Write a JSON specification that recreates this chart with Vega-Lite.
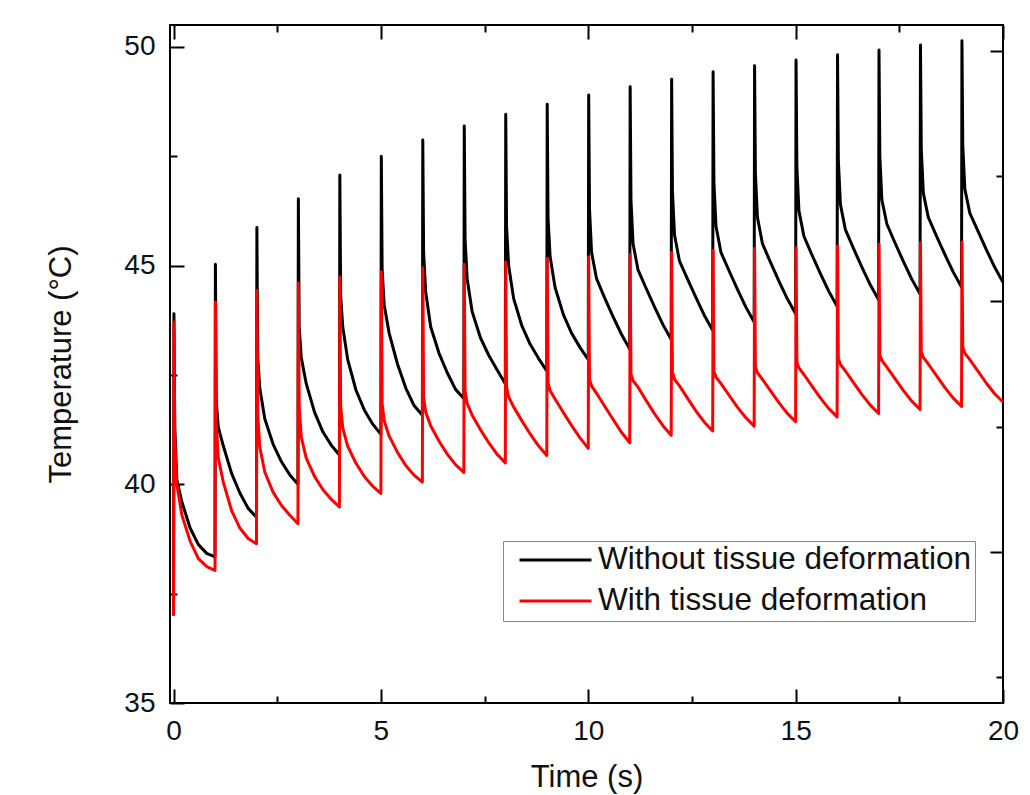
{
  "$schema": "https://vega.github.io/schema/vega-lite/v6.json",
  "width": 833,
  "height": 678,
  "autosize": {"type": "none"},
  "padding": {"left": 170, "top": 25, "right": 27, "bottom": 92},
  "background": "white",
  "config": {
    "font": "Liberation Sans",
    "view": {"stroke": "black", "strokeWidth": 2},
    "axis": {
      "domain": false, "grid": false, "tickColor": "black", "tickWidth": 2,
      "labelFont": "Liberation Sans", "labelFontSize": 28, "labelColor": "#111",
      "titleFont": "Liberation Sans", "titleFontSize": 31, "titleFontWeight": "normal", "titleColor": "#111",
      "labelFlush": false, "labelOverlap": false
    }
  },
  "data": {"values": [
    {"t":0,"wo":37,"w":37},{"t":0.01,"wo":43.9,"w":43.71},{"t":0.03,"wo":41.3,"w":41.0},{"t":0.08,"wo":40.1,"w":40.0},{"t":0.2,"wo":39.6,"w":39.3},{"t":0.4,"wo":39.0,"w":38.7},{"t":0.6,"wo":38.62,"w":38.3},{"t":0.8,"wo":38.42,"w":38.12},
    {"t":1,"wo":38.34,"w":38.03},{"t":1.01,"wo":45.03,"w":44.17},{"t":1.03,"wo":41.9,"w":41.4},{"t":1.08,"wo":41.3,"w":40.6},{"t":1.2,"wo":40.88,"w":40.05},{"t":1.4,"wo":40.25,"w":39.4},{"t":1.6,"wo":39.8,"w":39.0},{"t":1.8,"wo":39.45,"w":38.76},
    {"t":2,"wo":39.25,"w":38.64},{"t":2.01,"wo":45.87,"w":44.43},{"t":2.03,"wo":42.9,"w":41.6},{"t":2.08,"wo":42.2,"w":40.85},{"t":2.2,"wo":41.5,"w":40.28},{"t":2.4,"wo":40.92,"w":39.82},{"t":2.6,"wo":40.52,"w":39.52},{"t":2.8,"wo":40.22,"w":39.3},
    {"t":3,"wo":40.0,"w":39.1},{"t":3.01,"wo":46.53,"w":44.6},{"t":3.03,"wo":43.6,"w":41.78},{"t":3.08,"wo":42.9,"w":41.08},{"t":3.2,"wo":42.3,"w":40.6},{"t":3.4,"wo":41.65,"w":40.18},{"t":3.6,"wo":41.2,"w":39.88},{"t":3.8,"wo":40.9,"w":39.66},
    {"t":4,"wo":40.67,"w":39.48},{"t":4.01,"wo":47.07,"w":44.74},{"t":4.03,"wo":44.3,"w":41.79},{"t":4.08,"wo":43.6,"w":41.29},{"t":4.2,"wo":42.85,"w":40.87},{"t":4.4,"wo":42.15,"w":40.48},{"t":4.6,"wo":41.7,"w":40.18},{"t":4.8,"wo":41.38,"w":39.96},
    {"t":5,"wo":41.14,"w":39.79},{"t":5.01,"wo":47.5,"w":44.86},{"t":5.03,"wo":44.9,"w":41.85},{"t":5.08,"wo":44.1,"w":41.45},{"t":5.2,"wo":43.45,"w":41.1},{"t":5.4,"wo":42.75,"w":40.73},{"t":5.6,"wo":42.2,"w":40.43},{"t":5.8,"wo":41.8,"w":40.21},
    {"t":6,"wo":41.58,"w":40.05},{"t":6.01,"wo":47.87,"w":44.95},{"t":6.03,"wo":45.3,"w":41.99},{"t":6.08,"wo":44.4,"w":41.65},{"t":6.2,"wo":43.6,"w":41.34},{"t":6.4,"wo":43.0,"w":40.99},{"t":6.6,"wo":42.55,"w":40.69},{"t":6.8,"wo":42.17,"w":40.45},
    {"t":7,"wo":41.96,"w":40.27},{"t":7.01,"wo":48.19,"w":45.03},{"t":7.03,"wo":45.6,"w":42.13},{"t":7.08,"wo":44.7,"w":41.85},{"t":7.2,"wo":43.95,"w":41.58},{"t":7.4,"wo":43.35,"w":41.25},{"t":7.6,"wo":42.95,"w":40.95},{"t":7.8,"wo":42.62,"w":40.69},
    {"t":8,"wo":42.3,"w":40.49},{"t":8.01,"wo":48.46,"w":45.08},{"t":8.03,"wo":45.9,"w":42.22},{"t":8.08,"wo":45.0,"w":42.0},{"t":8.2,"wo":44.25,"w":41.77},{"t":8.4,"wo":43.62,"w":41.45},{"t":8.6,"wo":43.2,"w":41.15},{"t":8.8,"wo":42.88,"w":40.88},
    {"t":9,"wo":42.59,"w":40.66},{"t":9.01,"wo":48.69,"w":45.16},{"t":9.03,"wo":46.1,"w":42.32},{"t":9.08,"wo":45.2,"w":42.14},{"t":9.2,"wo":44.5,"w":41.95},{"t":9.4,"wo":43.88,"w":41.64},{"t":9.6,"wo":43.45,"w":41.34},{"t":9.8,"wo":43.13,"w":41.06},
    {"t":10,"wo":42.85,"w":40.82},{"t":10.01,"wo":48.9,"w":45.2},{"t":10.03,"wo":46.3,"w":42.4},{"t":10.08,"wo":45.3,"w":42.25},{"t":10.2,"wo":44.7,"w":42.08},{"t":10.4,"wo":44.25,"w":41.78},{"t":10.6,"wo":43.83,"w":41.48},{"t":10.8,"wo":43.43,"w":41.19},
    {"t":11,"wo":43.09,"w":40.95},{"t":11.01,"wo":49.09,"w":45.25},{"t":11.03,"wo":46.5,"w":42.52},{"t":11.08,"wo":45.5,"w":42.37},{"t":11.2,"wo":44.9,"w":42.22},{"t":11.4,"wo":44.47,"w":41.91},{"t":11.6,"wo":44.05,"w":41.61},{"t":11.8,"wo":43.65,"w":41.34},
    {"t":12,"wo":43.31,"w":41.12},{"t":12.01,"wo":49.26,"w":45.3},{"t":12.03,"wo":46.7,"w":42.55},{"t":12.08,"wo":45.7,"w":42.4},{"t":12.2,"wo":45.1,"w":42.25},{"t":12.4,"wo":44.68,"w":41.96},{"t":12.6,"wo":44.26,"w":41.67},{"t":12.8,"wo":43.86,"w":41.42},
    {"t":13,"wo":43.52,"w":41.22},{"t":13.01,"wo":49.43,"w":45.35},{"t":13.03,"wo":46.9,"w":42.58},{"t":13.08,"wo":45.9,"w":42.45},{"t":13.2,"wo":45.3,"w":42.3},{"t":13.4,"wo":44.87,"w":42.03},{"t":13.6,"wo":44.45,"w":41.76},{"t":13.8,"wo":44.05,"w":41.52},
    {"t":14,"wo":43.71,"w":41.33},{"t":14.01,"wo":49.57,"w":45.39},{"t":14.03,"wo":47.1,"w":42.68},{"t":14.08,"wo":46.1,"w":42.55},{"t":14.2,"wo":45.5,"w":42.4},{"t":14.4,"wo":45.06,"w":42.13},{"t":14.6,"wo":44.64,"w":41.86},{"t":14.8,"wo":44.24,"w":41.62},
    {"t":15,"wo":43.9,"w":41.43},{"t":15.01,"wo":49.7,"w":45.41},{"t":15.03,"wo":47.25,"w":42.79},{"t":15.08,"wo":46.25,"w":42.66},{"t":15.2,"wo":45.67,"w":42.51},{"t":15.4,"wo":45.23,"w":42.24},{"t":15.6,"wo":44.81,"w":41.97},{"t":15.8,"wo":44.41,"w":41.73},
    {"t":16,"wo":44.07,"w":41.54},{"t":16.01,"wo":49.82,"w":45.45},{"t":16.03,"wo":47.4,"w":42.87},{"t":16.08,"wo":46.4,"w":42.74},{"t":16.2,"wo":45.82,"w":42.59},{"t":16.4,"wo":45.38,"w":42.32},{"t":16.6,"wo":44.96,"w":42.05},{"t":16.8,"wo":44.56,"w":41.81},
    {"t":17,"wo":44.22,"w":41.62},{"t":17.01,"wo":49.93,"w":45.49},{"t":17.03,"wo":47.5,"w":42.96},{"t":17.08,"wo":46.5,"w":42.83},{"t":17.2,"wo":45.95,"w":42.68},{"t":17.4,"wo":45.51,"w":42.41},{"t":17.6,"wo":45.09,"w":42.14},{"t":17.8,"wo":44.69,"w":41.9},
    {"t":18,"wo":44.35,"w":41.71},{"t":18.01,"wo":50.04,"w":45.52},{"t":18.03,"wo":47.65,"w":43.03},{"t":18.08,"wo":46.65,"w":42.9},{"t":18.2,"wo":46.1,"w":42.75},{"t":18.4,"wo":45.67,"w":42.48},{"t":18.6,"wo":45.25,"w":42.21},{"t":18.8,"wo":44.85,"w":41.97},
    {"t":19,"wo":44.51,"w":41.78},{"t":19.01,"wo":50.14,"w":45.54},{"t":19.03,"wo":47.75,"w":43.13},{"t":19.08,"wo":46.75,"w":43.0},{"t":19.2,"wo":46.2,"w":42.85},{"t":19.4,"wo":45.78,"w":42.58},{"t":19.6,"wo":45.36,"w":42.31},{"t":19.8,"wo":44.96,"w":42.07},
    {"t":20,"wo":44.62,"w":41.88}
  ]},
  "transform": [{"fold": ["wo", "w"], "as": ["series", "T"]}],
  "layer": [
    {
      "transform": [{"filter": "datum.series == 'wo'"}],
      "mark": {"type": "line", "strokeWidth": 3, "strokeJoin": "round"},
      "encoding": {
        "x": {"field": "t", "type": "quantitative",
          "scale": {"domain": [-0.085, 20], "nice": false, "zero": false},
          "axis": {"orient": "bottom", "values": [0, 5, 10, 15, 20], "tickSize": -14, "labelPadding": 28, "title": "Time (s)", "titlePadding": 17}},
        "y": {"field": "T", "type": "quantitative",
          "scale": {"domain": [35, 50.5], "nice": false, "zero": false},
          "axis": {"orient": "left", "values": [35, 40, 45, 50], "tickSize": -14, "labelPadding": 29, "title": "Temperature (°C)", "titlePadding": 46}},
        "color": {"field": "series", "type": "nominal",
          "scale": {"domain": ["wo", "w"], "range": ["#000000", "#ff0000"]},
          "legend": {"orient": "none", "legendX": 333, "legendY": 516, "title": null,
            "symbolType": "stroke", "symbolSize": 5184, "symbolStrokeWidth": 3,
            "labelFont": "Liberation Sans", "labelFontSize": 31.5, "labelColor": "#111", "labelLimit": 700,
            "labelExpr": "datum.label == 'wo' ? 'Without tissue deformation' : 'With tissue deformation'",
            "fillColor": "white", "strokeColor": "#888888", "padding": 4, "symbolOffset": 11,
            "clipHeight": 30, "rowPadding": 9, "labelOffset": 5}}
      }
    },
    {
      "transform": [{"filter": "datum.series == 'w'"}],
      "mark": {"type": "line", "strokeWidth": 3, "strokeJoin": "round"},
      "encoding": {
        "x": {"field": "t", "type": "quantitative",
          "scale": {"domain": [-0.085, 20], "nice": false, "zero": false},
          "axis": {"orient": "bottom", "values": [2.5, 7.5, 12.5, 17.5], "tickSize": -7, "labels": false, "title": null}},
        "y": {"field": "T", "type": "quantitative",
          "scale": {"domain": [35, 50.5], "nice": false, "zero": false},
          "axis": {"orient": "left", "values": [37.5, 42.5, 47.5], "tickSize": -7, "labels": false, "title": null}},
        "color": {"field": "series", "type": "nominal",
          "scale": {"domain": ["wo", "w"], "range": ["#000000", "#ff0000"]},
          "legend": {"orient": "none", "legendX": 333, "legendY": 516, "title": null,
            "symbolType": "stroke", "symbolSize": 5184, "symbolStrokeWidth": 3,
            "labelFont": "Liberation Sans", "labelFontSize": 31.5, "labelColor": "#111", "labelLimit": 700,
            "labelExpr": "datum.label == 'wo' ? 'Without tissue deformation' : 'With tissue deformation'",
            "fillColor": "white", "strokeColor": "#888888", "padding": 4, "symbolOffset": 11,
            "clipHeight": 30, "rowPadding": 9, "labelOffset": 5}}
      }
    },
    {
      "transform": [{"filter": "datum.series == 'wo' && datum.t == 0"}],
      "mark": {"type": "point", "opacity": 0},
      "encoding": {
        "x": {"field": "t", "type": "quantitative",
          "scale": {"domain": [-0.085, 20], "nice": false, "zero": false},
          "axis": {"orient": "top", "values": [0, 5, 10, 15, 20], "tickSize": -14, "labels": false, "title": null}},
        "y": {"field": "T", "type": "quantitative",
          "scale": {"domain": [0.397, 3.103], "nice": false, "zero": false},
          "axis": {"orient": "right", "values": [1, 2, 3], "tickSize": -13, "labels": false, "title": null}}
      }
    },
    {
      "transform": [{"filter": "datum.series == 'wo' && datum.t == 0"}],
      "mark": {"type": "point", "opacity": 0},
      "encoding": {
        "x": {"field": "t", "type": "quantitative",
          "scale": {"domain": [-0.085, 20], "nice": false, "zero": false},
          "axis": {"orient": "top", "values": [2.5, 7.5, 12.5, 17.5], "tickSize": -7, "labels": false, "title": null}},
        "y": {"field": "T", "type": "quantitative",
          "scale": {"domain": [0.397, 3.103], "nice": false, "zero": false},
          "axis": {"orient": "right", "values": [0.5, 1.5, 2.5], "tickSize": -7, "labels": false, "title": null}}
      }
    }
  ],
  "resolve": {"scale": {"y": "independent"}, "axis": {"x": "independent", "y": "independent"}}
}
